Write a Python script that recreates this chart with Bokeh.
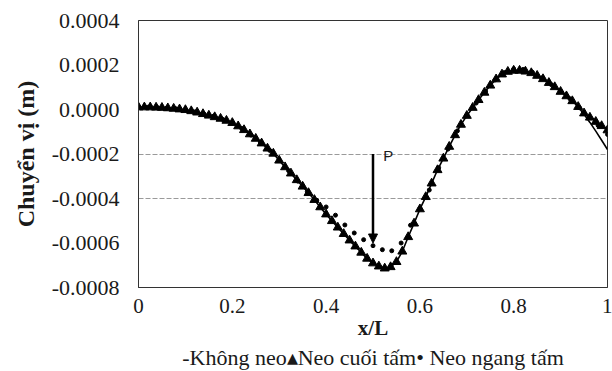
from bokeh.embed import file_html
from bokeh.models import (Arrow, FixedTicker, Label, NormalHead,
                          PrintfTickFormatter, Range1d, Title)
from bokeh.plotting import figure
from bokeh.resources import INLINE

# ---- data: deflection along the slab (m) versus relative position x/L ----
x_main = [0.0, 0.0125, 0.025, 0.0375, 0.05, 0.0625, 0.075, 0.0875, 0.1, 0.1125,
          0.125, 0.1375, 0.15, 0.1625, 0.175, 0.1875, 0.2, 0.2125, 0.225, 0.2375,
          0.25, 0.2625, 0.275, 0.2875, 0.3, 0.3125, 0.325, 0.3375, 0.35, 0.3625,
          0.375, 0.3875, 0.4, 0.4125, 0.425, 0.4375, 0.45, 0.4625, 0.475, 0.4875,
          0.5, 0.5125, 0.525, 0.5375, 0.55, 0.5625, 0.575, 0.5875, 0.6, 0.6125,
          0.625, 0.6375, 0.65, 0.6625, 0.675, 0.6875, 0.7, 0.7125, 0.725, 0.7375,
          0.75, 0.7625, 0.775, 0.7875, 0.8, 0.8125, 0.825, 0.8375, 0.85, 0.8625,
          0.875, 0.8875, 0.9, 0.9125, 0.925, 0.9375, 0.95, 0.9625, 0.975, 0.9875,
          1.0]

# "Không neo" (no anchor) – solid line
khong_neo = [0.000010, 0.000010, 0.000010, 0.000009, 0.000008, 0.000006, 0.000004,
             0.000001, -0.000002, -0.000007, -0.000013, -0.000020, -0.000027,
             -0.000034, -0.000041, -0.000050, -0.000060, -0.000075, -0.000092,
             -0.000111, -0.000131, -0.000152, -0.000175, -0.000198, -0.000229,
             -0.000259, -0.000287, -0.000317, -0.000346, -0.000375, -0.000406,
             -0.000439, -0.000471, -0.000501, -0.000530, -0.000559, -0.000588,
             -0.000615, -0.000643, -0.000670, -0.000691, -0.000705, -0.000714,
             -0.000708, -0.000685, -0.000638, -0.000573, -0.000512, -0.000448,
             -0.000393, -0.000332, -0.000272, -0.000220, -0.000167, -0.000115,
             -0.000068, -0.000028, 0.000008, 0.000043, 0.000076, 0.000108,
             0.000136, 0.000158, 0.000170, 0.000175, 0.000175, 0.000171,
             0.000164, 0.000152, 0.000137, 0.000120, 0.000101, 0.000080,
             0.000060, 0.000038, 0.000012, -0.000022, -0.000058, -0.000097,
             -0.000138, -0.000180]

# "Neo cuối tấm" (anchored at slab end) – triangles
neo_cuoi_tam = [0.000010, 0.000010, 0.000010, 0.000009, 0.000008, 0.000006, 0.000004,
                0.000001, -0.000002, -0.000007, -0.000013, -0.000020, -0.000027,
                -0.000034, -0.000041, -0.000050, -0.000060, -0.000075, -0.000092,
                -0.000111, -0.000131, -0.000152, -0.000175, -0.000198, -0.000229,
                -0.000259, -0.000287, -0.000317, -0.000346, -0.000375, -0.000406,
                -0.000439, -0.000471, -0.000501, -0.000530, -0.000559, -0.000588,
                -0.000615, -0.000643, -0.000670, -0.000691, -0.000705, -0.000714,
                -0.000708, -0.000685, -0.000638, -0.000573, -0.000512, -0.000448,
                -0.000393, -0.000332, -0.000272, -0.000220, -0.000167, -0.000115,
                -0.000068, -0.000028, 0.000008, 0.000043, 0.000076, 0.000108,
                0.000136, 0.000158, 0.000170, 0.000175, 0.000175, 0.000171,
                0.000164, 0.000152, 0.000137, 0.000120, 0.000101, 0.000080,
                0.000060, 0.000038, 0.000012, -0.000017, -0.000036, -0.000055,
                -0.000074, -0.000093]

# "Neo ngang tấm" (anchored at mid-slab) – dots
x_dots = [0.0, 0.02, 0.04, 0.06, 0.08, 0.1, 0.12, 0.14, 0.16, 0.18, 0.2, 0.22,
          0.24, 0.26, 0.28, 0.3, 0.32, 0.34, 0.36, 0.38, 0.4, 0.42, 0.44, 0.46,
          0.48, 0.5, 0.52, 0.54, 0.56, 0.58, 0.6, 0.62, 0.64, 0.66, 0.68, 0.7,
          0.72, 0.74, 0.76, 0.78, 0.8, 0.82, 0.84, 0.86, 0.88, 0.9, 0.92, 0.94,
          0.96, 0.98, 1.0]
neo_ngang_tam = [0.000010, 0.000010, 0.000009, 0.000006, 0.000003, -0.000002,
                 -0.000011, -0.000021, -0.000030, -0.000045, -0.000060, -0.000085,
                 -0.000115, -0.000147, -0.000184, -0.000229, -0.000275, -0.000322,
                 -0.000369, -0.000408, -0.000438, -0.000475, -0.000519, -0.000555,
                 -0.000585, -0.000612, -0.000630, -0.000635, -0.000600, -0.000520,
                 -0.000445, -0.000362, -0.000262, -0.000178, -0.000096, -0.000028,
                 0.000029, 0.000082, 0.000133, 0.000166, 0.000182, 0.000180,
                 0.000167, 0.000142, 0.000112, 0.000082, 0.000048, 0.000008,
                 -0.000035, -0.000072, -0.000112]

series_names = ["Không neo", "Neo cuối tấm", "Neo ngang tấm"]
series_keys = ["-", "▴", "• "]

y_ticks = [-0.0008, -0.0006, -0.0004, -0.0002, 0.0, 0.0002, 0.0004]
x_ticks = [0, 0.2, 0.4, 0.6, 0.8, 1]
grid_levels = [-0.0004, -0.0002]

# point load P
load_x = 0.5
load_from = -0.0002
load_to = -0.0006

SERIF = "Liberation Serif"
INK = "#1a1a1a"

p = figure(width=612, height=371, output_backend="svg", toolbar_location=None,
           x_range=Range1d(0, 1), y_range=Range1d(-0.0008, 0.0004),
           min_border_left=136, min_border_right=5, min_border_top=20,
           min_border_bottom=84)
p.background_fill_color = "white"
p.border_fill_color = "white"
p.outline_line_color = "#333333"
p.outline_line_width = 1

p.line(x_main, khong_neo, line_color="black", line_width=1.6)
p.scatter(x_main, neo_cuoi_tam, marker="triangle", size=9,
          fill_color="black", line_color="black")
p.scatter(x_dots, neo_ngang_tam, marker="circle", size=4,
          fill_color="black", line_color="black")

# axes
p.xgrid.visible = False
p.ygrid.ticker = FixedTicker(ticks=grid_levels)
p.ygrid.grid_line_color = "#9a9a9a"
p.ygrid.grid_line_dash = "5 2"
p.ygrid.grid_line_width = 1

p.yaxis.ticker = FixedTicker(ticks=y_ticks)
p.yaxis.formatter = PrintfTickFormatter(format="%.4f")
p.xaxis.ticker = FixedTicker(ticks=x_ticks)
p.xaxis.major_label_overrides = {0: "0", 1: "1"}

for ax in (p.xaxis, p.yaxis):
    ax.axis_line_color = "#333333"
    ax.major_tick_out = 0
    ax.major_tick_in = 0
    ax.minor_tick_out = 0
    ax.minor_tick_in = 0
    ax.major_label_text_font = SERIF
    ax.major_label_text_color = INK

p.yaxis.major_label_text_font_size = "22px"
p.yaxis.major_label_standoff = 19

p.xaxis.major_label_text_font_size = "21px"
p.xaxis.major_label_standoff = 11
p.xaxis.axis_label = "x/L"
p.xaxis.axis_label_text_font = SERIF
p.xaxis.axis_label_text_font_style = "bold"
p.xaxis.axis_label_text_font_size = "21px"
p.xaxis.axis_label_text_color = INK
p.xaxis.axis_label_standoff = 0

# y title, shifted a little below the frame's middle
p.add_layout(Title(text="Chuyển vị (m)", align="center", offset=-33,
                   text_font=SERIF, text_font_style="bold",
                   text_font_size="24px", text_color=INK, standoff=20), "left")

# series key line under the axis title
key_text = "".join(k + n for k, n in zip(series_keys, series_names))
p.add_layout(Title(text=key_text, align="center", offset=-11,
                   text_font=SERIF, text_font_style="normal",
                   text_font_size="22px", text_color=INK, standoff=0), "below")

# load arrow and its label
p.add_layout(Arrow(end=NormalHead(size=9, fill_color="black", line_color="black"),
                   x_start=load_x, y_start=load_from, x_end=load_x, y_end=load_to,
                   line_color="black", line_width=2.5))
p.add_layout(Label(x=0.522, y=-0.000207, text="P", text_font="Liberation Sans",
                   text_font_size="15px", text_color=INK,
                   text_align="left", text_baseline="alphabetic"))

open("out.html", "w").write(file_html(p, INLINE))
